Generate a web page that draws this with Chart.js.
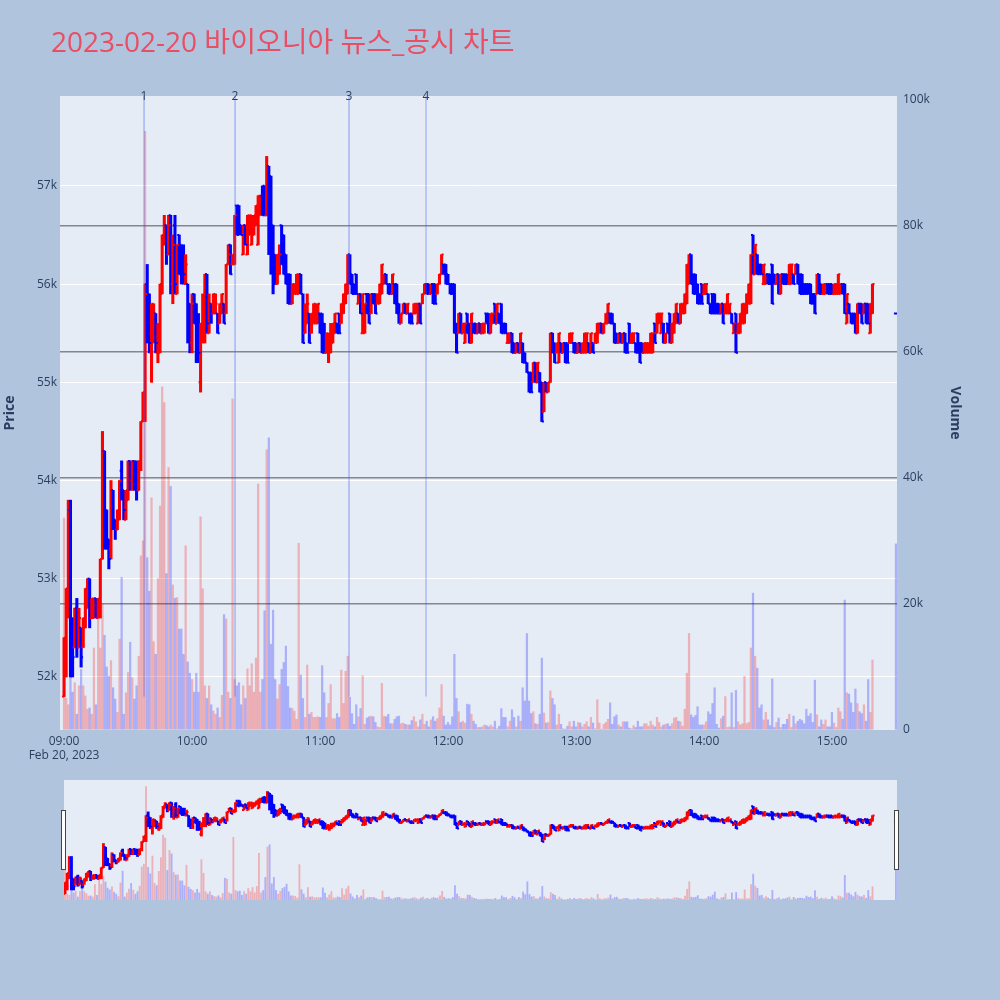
<!DOCTYPE html>
<html><head><meta charset="utf-8">
<script src="https://cdn.jsdelivr.net/npm/chart.js@4"></script>
<style>
html,body{margin:0;padding:0;background:#b0c4de;width:1000px;height:1000px;overflow:hidden;font-family:"Open Sans","Noto Sans CJK KR",sans-serif;}
#title{position:absolute;left:51px;top:26px;font-size:28px;line-height:30px;color:#e94f64;white-space:nowrap;font-family:"Open Sans","Noto Sans CJK KR",sans-serif;}
#main{position:absolute;left:0;top:0;}
#slider{position:absolute;left:0;top:780px;}
</style></head><body>
<canvas id="main" width="1000" height="780"></canvas>
<canvas id="slider" width="1000" height="120"></canvas>
<div id="title">2023-02-20 바이오니아 뉴스_공시 차트</div>
<script>
const times = [
'09:00','09:01','09:02','09:03','09:04','09:05','09:06','09:07','09:08','09:09',
'09:10','09:11','09:12','09:13','09:14','09:15','09:16','09:17','09:18','09:19',
'09:20','09:21','09:22','09:23','09:24','09:25','09:26','09:27','09:28','09:29',
'09:30','09:31','09:32','09:33','09:34','09:35','09:36','09:37','09:38','09:39',
'09:40','09:41','09:42','09:43','09:44','09:45','09:46','09:47','09:48','09:49',
'09:50','09:51','09:52','09:53','09:54','09:55','09:56','09:57','09:58','09:59',
'10:00','10:01','10:02','10:03','10:04','10:05','10:06','10:07','10:08','10:09',
'10:10','10:11','10:12','10:13','10:14','10:15','10:16','10:17','10:18','10:19',
'10:20','10:21','10:22','10:23','10:24','10:25','10:26','10:27','10:28','10:29',
'10:30','10:31','10:32','10:33','10:34','10:35','10:36','10:37','10:38','10:39',
'10:40','10:41','10:42','10:43','10:44','10:45','10:46','10:47','10:48','10:49',
'10:50','10:51','10:52','10:53','10:54','10:55','10:56','10:57','10:58','10:59',
'11:00','11:01','11:02','11:03','11:04','11:05','11:06','11:07','11:08','11:09',
'11:10','11:11','11:12','11:13','11:14','11:15','11:16','11:17','11:18','11:19',
'11:20','11:21','11:22','11:23','11:24','11:25','11:26','11:27','11:28','11:29',
'11:30','11:31','11:32','11:33','11:34','11:35','11:36','11:37','11:38','11:39',
'11:40','11:41','11:42','11:43','11:44','11:45','11:46','11:47','11:48','11:49',
'11:50','11:51','11:52','11:53','11:54','11:55','11:56','11:57','11:58','11:59',
'12:00','12:01','12:02','12:03','12:04','12:05','12:06','12:07','12:08','12:09',
'12:10','12:11','12:12','12:13','12:14','12:15','12:16','12:17','12:18','12:19',
'12:20','12:21','12:22','12:23','12:24','12:25','12:26','12:27','12:28','12:29',
'12:30','12:31','12:32','12:33','12:34','12:35','12:36','12:37','12:38','12:39',
'12:40','12:41','12:42','12:43','12:44','12:45','12:46','12:47','12:48','12:49',
'12:50','12:51','12:52','12:53','12:54','12:55','12:56','12:57','12:58','12:59',
'13:00','13:01','13:02','13:03','13:04','13:05','13:06','13:07','13:08','13:09',
'13:10','13:11','13:12','13:13','13:14','13:15','13:16','13:17','13:18','13:19',
'13:20','13:21','13:22','13:23','13:24','13:25','13:26','13:27','13:28','13:29',
'13:30','13:31','13:32','13:33','13:34','13:35','13:36','13:37','13:38','13:39',
'13:40','13:41','13:42','13:43','13:44','13:45','13:46','13:47','13:48','13:49',
'13:50','13:51','13:52','13:53','13:54','13:55','13:56','13:57','13:58','13:59',
'14:00','14:01','14:02','14:03','14:04','14:05','14:06','14:07','14:08','14:09',
'14:10','14:11','14:12','14:13','14:14','14:15','14:16','14:17','14:18','14:19',
'14:20','14:21','14:22','14:23','14:24','14:25','14:26','14:27','14:28','14:29',
'14:30','14:31','14:32','14:33','14:34','14:35','14:36','14:37','14:38','14:39',
'14:40','14:41','14:42','14:43','14:44','14:45','14:46','14:47','14:48','14:49',
'14:50','14:51','14:52','14:53','14:54','14:55','14:56','14:57','14:58','14:59',
'15:00','15:01','15:02','15:03','15:04','15:05','15:06','15:07','15:08','15:09',
'15:10','15:11','15:12','15:13','15:14','15:15','15:16','15:17','15:18','15:19',
'15:30'
];

const opens = [
51800,52400,52900,53700,52600,52300,52700,52300,52500,52300,
52500,52700,53000,52600,52600,52800,52600,52700,53200,54300,
53700,53400,53300,53900,53600,53500,53600,54100,53900,53600,
53800,54200,54000,54200,54100,53900,54200,54600,54900,56000,
55900,55300,55500,55700,55300,55300,55900,56400,56600,56300,
56700,56000,56600,55900,56500,56400,56200,56000,56000,55800,
55400,55900,55800,55600,55000,55500,55600,56100,55500,55800,
55700,55700,55700,55600,55700,55800,55700,56200,56400,56200,
56200,56800,56800,56600,56300,56600,56300,56500,56400,56500,
56600,56400,56700,56900,57000,56700,57200,57100,56600,56300,
56000,56100,56600,56500,56300,56100,56100,55800,55900,55900,
55900,56100,55900,55500,55600,55700,55500,55600,55600,55600,
55700,55700,55600,55300,55300,55300,55400,55500,55600,55700,
55600,55700,55800,55900,56300,56100,56000,56100,55800,55900,
55500,55500,55900,55900,55700,55900,55900,55800,55800,55900,
56000,56100,56000,56000,55900,56000,56000,55800,55600,55700,
55800,55700,55700,55700,55700,55700,55600,55800,55800,55900,
56000,56000,55900,56000,56000,55900,56000,56100,56200,56200,
56100,56000,56000,56000,55600,55500,55700,55500,55400,55700,
55600,55400,55600,55600,55500,55600,55500,55500,55700,55700,
55500,55600,55800,55600,55700,55800,55600,55600,55400,55400,
55500,55400,55300,55400,55300,55400,55300,55200,55100,55100,
55000,55200,55000,55100,55000,54700,55000,54900,55000,55500,
55400,55300,55200,55400,55300,55400,55400,55400,55400,55400,
55400,55300,55400,55300,55300,55300,55400,55300,55400,55400,
55400,55500,55600,55500,55600,55600,55700,55700,55600,55500,
55400,55500,55400,55500,55400,55600,55400,55400,55400,55500,
55400,55400,55300,55300,55300,55300,55300,55600,55500,55600,
55500,55600,55400,55600,55700,55400,55500,55600,55700,55600,
55700,55700,55800,56000,56300,56100,56100,56000,55900,56000,
55900,55900,55900,55800,55900,55900,55800,55800,55700,55800,
55700,55700,55700,55700,55500,55700,55500,55500,55600,55600,
55700,55800,55800,56500,56100,56300,56200,56200,56000,56000,
56100,56100,56200,56100,56000,56100,55900,56100,56100,56100,
56000,56000,56100,56100,56200,56100,56100,56000,56000,56000,
56000,55900,55900,55900,56100,56000,55900,55900,56000,56000,
56000,55900,55900,55900,55900,56000,56000,55600,55800,55700,
55700,55700,55500,55800,55800,55700,55800,55800,55500,55700,
55700
];

const highs = [
52400,52900,53800,53800,52600,52700,52800,52700,52500,52600,
52900,53000,53000,52800,52800,52800,52800,53200,54500,54300,
53700,53400,54000,53900,53600,53700,54000,54200,53900,53900,
54200,54200,54200,54200,54200,54200,54600,54900,56000,56200,
55900,55800,55800,55700,55600,56000,56500,56700,56600,56700,
56700,56500,56700,56400,56500,56400,56400,56300,56000,55800,
55900,55900,55800,55700,55600,55900,56100,56100,55900,55800,
55900,55900,55700,55800,55900,55800,56200,56400,56400,56300,
56700,56800,56800,56600,56600,56600,56700,56700,56700,56700,
56800,56900,56900,57000,57000,57300,57200,57100,56600,56300,
56300,56400,56600,56500,56300,56100,56100,56000,56000,56100,
56100,56100,55900,55800,55900,55700,55700,55800,55800,55800,
55700,55700,55600,55500,55500,55600,55600,55700,55600,55700,
55800,55900,56000,56300,56300,56100,56000,56100,55900,55900,
55900,55800,55900,55900,55900,55900,55900,55900,56000,56200,
56100,56100,56000,56000,56100,56000,56000,55800,55700,55800,
55800,55800,55700,55700,55800,55800,55800,55800,55900,56000,
56000,56000,56000,56000,56000,56000,56100,56300,56200,56200,
56100,56000,56000,56000,55600,55700,55700,55600,55600,55700,
55600,55700,55600,55600,55600,55600,55600,55600,55700,55700,
55700,55700,55800,55800,55700,55800,55600,55600,55500,55500,
55500,55400,55400,55400,55500,55400,55300,55200,55100,55100,
55200,55200,55200,55100,55000,55000,55000,55000,55500,55500,
55400,55400,55500,55400,55400,55400,55400,55500,55500,55400,
55400,55400,55400,55400,55500,55500,55400,55500,55400,55500,
55600,55600,55600,55600,55700,55800,55700,55700,55600,55500,
55500,55500,55500,55500,55400,55600,55500,55500,55400,55500,
55400,55400,55400,55400,55400,55500,55500,55600,55700,55700,
55700,55600,55500,55600,55700,55600,55700,55800,55700,55800,
55800,55900,56200,56300,56300,56100,56100,56000,55900,56000,
56000,56000,55900,55800,55900,55900,55800,55800,55800,55800,
55800,55900,55800,55700,55600,55700,55600,55700,55800,55800,
55900,56000,56300,56500,56400,56300,56200,56200,56200,56100,
56100,56100,56200,56100,56100,56100,56100,56100,56100,56100,
56200,56200,56100,56200,56200,56100,56100,56000,56000,56000,
56000,55900,55900,56100,56100,56000,56000,56000,56000,56000,
56000,56000,56000,56100,56000,56000,56000,55900,55800,55700,
55700,55700,55800,55800,55800,55800,55800,55800,55800,56000,
55700
];

const lows = [
51800,52000,52600,52000,52000,52300,52200,52300,52100,52300,
52500,52700,52500,52600,52600,52600,52600,52600,53200,53300,
53300,53100,53200,53500,53400,53500,53600,53800,53600,53600,
53800,53900,53900,53900,53800,53900,54100,54600,54600,55400,
55300,55000,55400,55300,55200,55300,55900,56400,56200,56300,
55900,55800,55900,55900,56100,56000,56000,56000,55400,55300,
55300,55600,55200,55200,54900,55400,55400,55500,55500,55600,
55700,55700,55500,55600,55700,55600,55700,56200,56100,56200,
56200,56500,56500,56500,56300,56400,56300,56500,56400,56500,
56600,56400,56700,56700,56700,56700,56300,56100,55900,56000,
56000,56100,56200,56100,56000,55800,55800,55800,55900,55900,
55900,55900,55400,55500,55600,55400,55500,55600,55600,55600,
55500,55300,55300,55300,55200,55300,55400,55500,55500,55500,
55600,55700,55800,55900,56000,55900,55900,55900,55800,55700,
55500,55500,55700,55600,55700,55800,55700,55800,55800,55900,
56000,56000,55900,55900,55900,55800,55700,55600,55600,55700,
55700,55700,55600,55600,55700,55700,55600,55600,55800,55900,
55900,55900,55900,55800,55800,55900,56000,56100,56100,56000,
56000,55900,55900,55500,55300,55500,55500,55500,55400,55500,
55400,55400,55500,55500,55500,55500,55500,55500,55600,55500,
55500,55600,55600,55600,55600,55500,55500,55500,55400,55400,
55300,55300,55300,55300,55300,55200,55200,55100,54900,54900,
55000,55000,55000,54900,54600,54700,54900,54900,55000,55300,
55200,55300,55200,55300,55300,55200,55200,55400,55400,55300,
55300,55300,55300,55300,55300,55300,55300,55300,55300,55400,
55400,55500,55500,55500,55600,55600,55600,55600,55400,55400,
55400,55400,55400,55300,55300,55400,55400,55400,55300,55300,
55200,55300,55300,55300,55300,55300,55300,55400,55500,55600,
55500,55400,55400,55500,55400,55400,55500,55600,55600,55600,
55700,55700,55800,56000,56000,55900,55900,55800,55800,55800,
55900,55900,55800,55700,55700,55700,55700,55700,55700,55600,
55700,55700,55700,55600,55500,55300,55500,55500,55600,55600,
55700,55800,55800,56100,56100,56100,56100,56100,56000,56000,
56000,56000,55800,56000,56000,55900,55900,56000,56000,56000,
56000,56000,56000,56100,56000,55900,55900,55900,55900,55900,
55800,55800,55700,55900,55900,55900,55900,55900,55900,55900,
55900,55900,55900,55900,55900,55900,55700,55600,55700,55600,
55600,55500,55500,55700,55600,55700,55600,55600,55500,55700,
55700
];

const closes = [
52400,52900,53700,52100,52200,52700,52300,52600,52200,52600,
52900,53000,52600,52800,52800,52600,52800,53200,54300,53400,
53400,53200,53900,53600,53500,53700,54000,53900,53700,53900,
54200,54000,54200,54000,53900,54200,54600,54900,55900,55600,
55400,55800,55700,55400,55500,56000,56500,56600,56300,56600,
56000,56400,56000,56400,56100,56100,56100,56200,55500,55400,
55800,55600,55300,55300,55600,55800,56100,55600,55800,55700,
55900,55800,55500,55800,55900,55600,56200,56300,56100,56300,
56700,56500,56600,56500,56600,56400,56700,56700,56600,56700,
56800,56900,56900,56700,56700,57200,56400,56200,56000,56000,
56300,56300,56200,56100,56000,55800,55800,56000,56000,56100,
56100,55900,55400,55700,55800,55400,55700,55800,55700,55800,
55500,55300,55300,55500,55400,55500,55600,55700,55500,55500,
55800,55900,56000,56300,56000,55900,55900,55900,55900,55700,
55900,55800,55700,55600,55900,55800,55700,55900,56000,56200,
56100,56000,55900,55900,56100,55800,55700,55600,55700,55800,
55700,55800,55600,55600,55800,55800,55800,55600,55900,56000,
55900,55900,56000,55800,55800,56000,56100,56300,56100,56000,
56000,55900,55900,55500,55300,55700,55500,55600,55600,55500,
55400,55700,55500,55500,55600,55500,55600,55600,55600,55500,
55700,55700,55600,55800,55600,55500,55500,55500,55500,55500,
55300,55300,55400,55300,55500,55200,55200,55100,54900,54900,
55200,55000,55200,54900,54600,55000,54900,55000,55500,55300,
55200,55400,55500,55300,55400,55200,55200,55500,55500,55300,
55300,55400,55300,55400,55500,55500,55300,55500,55300,55500,
55600,55600,55500,55600,55700,55800,55600,55600,55400,55400,
55500,55400,55500,55300,55300,55400,55500,55500,55300,55300,
55200,55300,55400,55400,55400,55500,55500,55400,55700,55700,
55700,55400,55500,55500,55400,55600,55700,55800,55600,55800,
55800,55900,56200,56300,56000,55900,55900,55800,55800,55800,
56000,56000,55800,55700,55700,55700,55700,55700,55800,55600,
55800,55900,55800,55600,55600,55300,55600,55700,55800,55800,
55900,56000,56300,56100,56400,56100,56100,56100,56200,56100,
56000,56000,55800,56000,56100,55900,56100,56000,56000,56000,
56200,56200,56000,56200,56000,55900,55900,55900,55900,55900,
55800,55800,55700,56100,55900,55900,56000,56000,55900,55900,
55900,56000,56000,56100,56000,55900,55700,55900,55700,55600,
55600,55500,55800,55700,55600,55800,55600,55600,55800,56000,
55700
];

const volumes = [
33600,5000,4000,9000,6000,7500,2500,7000,9600,7000,
5400,3300,3500,2500,13000,4000,19000,13000,20000,15000,
10000,8500,11000,6700,4900,2800,14400,24200,2500,5900,
9100,13900,8300,4900,7000,11700,27600,30000,94900,27300,
22000,36800,14000,12000,24000,35500,54400,51900,24800,41600,
38600,23000,20900,21000,16000,16000,12000,29200,10800,9000,
8000,6000,9000,6000,33800,22400,7000,5000,7000,4000,
3000,2500,3500,2000,5500,18300,17600,6000,5000,52500,
8000,7000,7500,4000,7000,5000,9700,7000,10500,6000,
11400,39000,6000,8000,18900,44400,46300,13600,19000,8000,
4900,7200,9600,10700,13300,6900,3500,3400,3000,1700,
29600,8700,5000,2000,10300,2500,2800,2000,2000,2100,
2000,10200,5900,2000,4200,7200,1800,1800,2600,2000,
9500,4200,9300,11700,5200,2600,900,4000,2100,3400,
8600,900,1900,2100,2200,2100,1200,500,400,7400,
2200,2100,2500,1000,1000,1700,2100,2200,1000,1100,
900,800,800,1500,2100,1300,500,1600,2500,900,
1400,500,1600,2100,1400,1800,3500,7200,2200,800,
1200,800,2100,12000,5000,2900,1200,1400,1100,4100,
4000,2500,1400,900,400,400,500,800,700,500,
800,500,1400,200,600,3400,2000,2000,500,1400,
3200,2000,500,2200,1400,6700,4600,15300,4600,2600,
2900,1000,900,2500,11400,2700,1100,1200,6200,5000,
4000,800,2500,900,200,100,600,1300,500,1400,
500,1200,1100,500,900,1300,500,2000,1100,200,
4800,1100,100,900,1200,1700,4300,900,2100,2400,
800,500,1300,1300,1300,300,200,700,400,1400,
500,500,1000,1000,600,1400,800,500,2000,1200,
500,800,900,1000,600,1000,1900,2000,1400,1300,
600,3300,9000,15300,2400,2000,2300,3700,800,800,
800,1300,2900,2500,4200,6700,900,300,1800,2200,
5300,400,500,5900,400,6300,1300,800,1000,8500,
1000,1200,13000,21700,11700,9800,3500,4000,1600,2800,
1600,700,8100,400,1200,1900,400,900,900,1700,
2500,400,2200,1000,1400,1700,1500,1000,3300,2200,
2600,1200,7900,2400,500,1600,900,1600,500,500,
2800,1100,400,3500,2900,1700,20600,5900,5700,4300,
2800,6500,4200,2900,2600,4000,1400,8000,2800,11100,
29500
];

const newsTimes = ['09:37:30','10:20:10','11:13:36','11:49:42'];
const newsLabels = ['1','2','3','4'];
const priceTicks = [52000,53000,54000,55000,56000,57000];
const volumeTicks = [0,20000,40000,60000,80000,100000];
const hourTicks = ['09:00','10:00','11:00','12:00','13:00','14:00','15:00'];

const toMin = t => { const p = t.split(':').map(Number); return (p[0]-9)*60 + p[1] + (p[2]||0)/60; };
const xs = times.map(toMin);
// direction: close vs open; a flat bar follows the move from the previous close
const up = closes.map((c,i) => c > opens[i] ? true : c < opens[i] ? false : (i > 0 ? c >= closes[i-1] : true));
const priceData = xs.map((x,i) => ({x, y:[lows[i], highs[i]]}));
const volData = xs.map((x,i) => ({x, y: volumes[i]}));
const RED = '#ff0000', BLUE = '#0000ff';
const FONT = '"Open Sans", "Noto Sans CJK KR", sans-serif';
const TXT = '#2a3f5f';
Chart.defaults.font.family = FONT;
Chart.defaults.color = TXT;

const bgPlugin = {
  id:'bg',
  beforeDraw(chart){
    const a = chart.chartArea, c = chart.ctx;
    c.save(); c.fillStyle = '#e5ecf6'; c.fillRect(a.left, a.top, a.right-a.left, a.bottom-a.top); c.restore();
  }
};
const ohlcTicks = {
  id:'ohlcTicks',
  afterDatasetsDraw(chart){
    const c = chart.ctx, ys = chart.scales.y;
    chart.data.datasets.forEach((ds, di) => {
      if (!ds.ohlc) return;
      const meta = chart.getDatasetMeta(di);
      c.save();
      c.beginPath(); c.rect(chart.chartArea.left, chart.chartArea.top, chart.chartArea.right-chart.chartArea.left, chart.chartArea.bottom-chart.chartArea.top); c.clip();
      c.lineWidth = 2;
      meta.data.forEach((el, i) => {
        const x = el.x, yo = ys.getPixelForValue(opens[i]), yc = ys.getPixelForValue(closes[i]);
        c.strokeStyle = up[i] ? RED : BLUE;
        c.beginPath();
        c.moveTo(x - 2, yo); c.lineTo(x, yo);
        c.moveTo(x, yc); c.lineTo(x + 2, yc);
        c.stroke();
      });
      c.restore();
    });
  }
};
const newsPlugin = {
  id:'news',
  afterDatasetsDraw(chart){
    const c = chart.ctx, xsS = chart.scales.x, ys = chart.scales.y, a = chart.chartArea;
    const lowY = ys.getPixelForValue(Math.min(...lows));
    c.save();
    newsTimes.forEach((t, k) => {
      const x = xsS.getPixelForValue(toMin(t));
      c.strokeStyle = k === 3 ? 'rgba(70,100,235,0.35)' : 'rgba(70,100,235,0.6)';
      c.lineWidth = k === 3 ? 1.5 : 1;
      c.beginPath(); c.moveTo(x, a.top); c.lineTo(x, lowY); c.stroke();
      c.fillStyle = TXT; c.font = '12px ' + FONT; c.textAlign = 'center'; c.textBaseline = 'middle';
      c.fillText(newsLabels[k], x, a.top + 1);
    });
    c.restore();
  }
};

const fmtHour = v => { const h = 9 + Math.round(v/60); return (h<10?'0':'') + h + ':00'; };

new Chart(document.getElementById('main'), {
  type:'bar',
  data:{ datasets:[
    {label:'OHLC', data:priceData, yAxisID:'y', ohlc:true, backgroundColor: up.map(u => u?RED:BLUE), barThickness:2.4, grouped:false, order:0, borderWidth:0},
    {label:'Volume', data:volData, yAxisID:'y1', backgroundColor: up.map(u => u?'rgba(255,0,0,0.25)':'rgba(0,0,255,0.25)'), barThickness:1.6, grouped:false, order:1, borderWidth:0}
  ]},
  options:{
    responsive:false, animation:false, devicePixelRatio:1,
    layout:{padding:{top:96, right:35, left:0, bottom:0}},
    plugins:{legend:{display:false}, tooltip:{enabled:false}},
    scales:{
      x:{type:'linear', min:-1.9, max:390.5, offset:false,
        grid:{display:false, drawTicks:false}, border:{display:false},
        afterBuildTicks: s => { s.ticks = hourTicks.map(t => ({value: toMin(t)})); },
        afterFit: s => { s.height = 50; },
        ticks:{autoSkip:false, maxRotation:0, padding:4, color:TXT, font:{size:12},
          callback:(v, i) => i === 0 ? [fmtHour(v), 'Feb 20, 2023'] : fmtHour(v)}
      },
      y:{type:'linear', position:'left', min:51460, max:57915,
        grid:{color:'#ffffff', lineWidth:1, drawTicks:false}, border:{display:false},
        afterBuildTicks: s => { s.ticks = priceTicks.map(v => ({value:v})); },
        afterFit: s => { s.width = 60; },
        ticks:{padding:3, color:TXT, font:{size:12}, callback: v => (v/1000) + 'k'},
        title:{display:true, text:'Price', color:TXT, font:{size:14, weight:'bold'}, padding:{top:2, bottom:2}}
      },
      y1:{type:'linear', position:'right', min:0, max:100500,
        grid:{drawTicks:false, lineWidth:1.5, color: ctx => (ctx.tick && (ctx.tick.value === 0 || ctx.tick.value === 100000)) ? 'rgba(0,0,0,0)' : 'rgba(110,110,110,0.8)'},
        border:{display:false},
        afterBuildTicks: s => { s.ticks = volumeTicks.map(v => ({value:v})); },
        afterFit: s => { s.width = 68; },
        ticks:{padding:6, color:TXT, font:{size:12}, callback: v => v === 0 ? '0' : (v/1000) + 'k'},
        title:{display:true, text:'Volume', color:TXT, font:{size:14, weight:'bold'}, padding:{top:2, bottom:2}}
      }
    }
  },
  plugins:[bgPlugin, ohlcTicks, newsPlugin]
});

const handlePlugin = {
  id:'handles',
  afterDraw(chart){
    const c = chart.ctx, a = chart.chartArea;
    c.save(); c.fillStyle = '#ffffff'; c.strokeStyle = '#444444'; c.lineWidth = 1;
    [a.left - 2, a.right - 2].forEach(x => { c.fillRect(x - 0.5, 30.5, 4, 59); c.strokeRect(x - 0.5, 30.5, 4, 59); });
    c.restore();
  }
};

new Chart(document.getElementById('slider'), {
  type:'bar',
  data:{ datasets:[
    {label:'OHLC', data:priceData, yAxisID:'y', ohlc:true, backgroundColor: up.map(u => u?RED:BLUE), barThickness:2.2, grouped:false, order:0, borderWidth:0},
    {label:'Volume', data:volData, yAxisID:'y1', backgroundColor: up.map(u => u?'rgba(255,0,0,0.25)':'rgba(0,0,255,0.25)'), barThickness:1.2, grouped:false, order:1, borderWidth:0}
  ]},
  options:{
    responsive:false, animation:false, devicePixelRatio:1,
    layout:{padding:{top:0, right:103, left:64, bottom:0}},
    plugins:{legend:{display:false}, tooltip:{enabled:false}},
    scales:{
      x:{type:'linear', min:-0.5, max:390.5, offset:false, display:false},
      y:{type:'linear', min:51460, max:57915, display:false},
      y1:{type:'linear', min:0, max:100500, display:false}
    }
  },
  plugins:[bgPlugin, ohlcTicks, handlePlugin]
});
</script>
</body></html>
